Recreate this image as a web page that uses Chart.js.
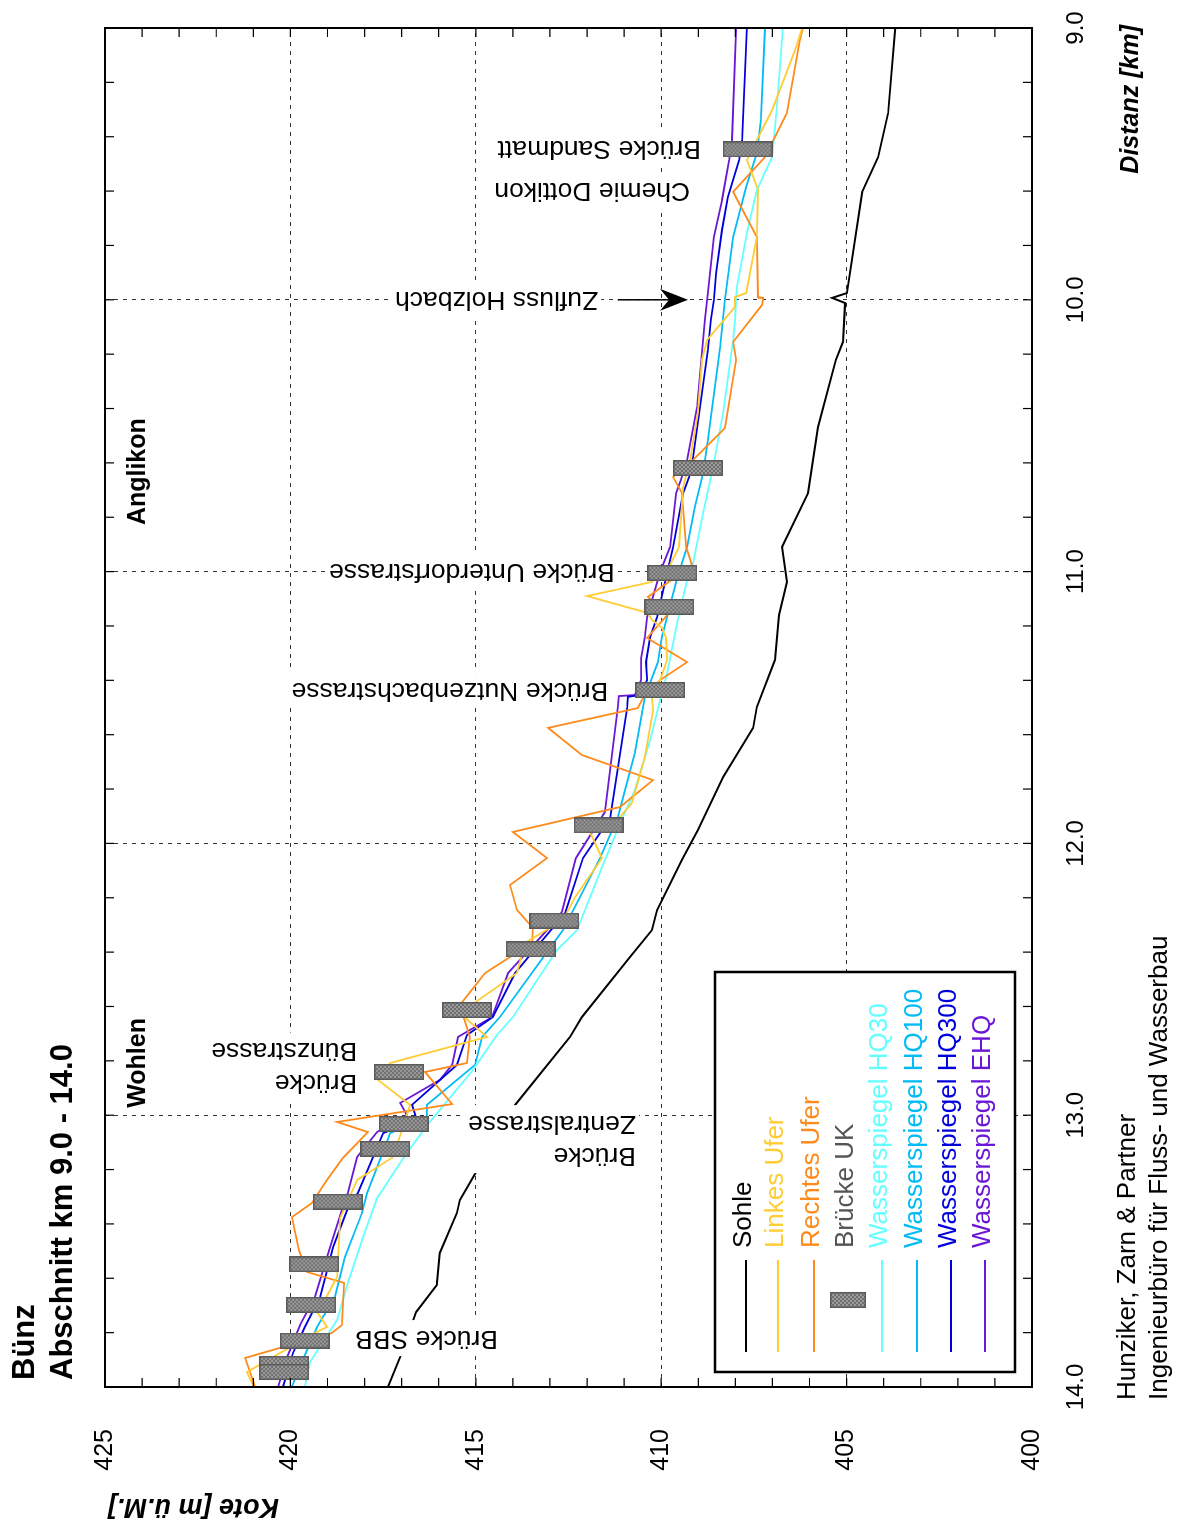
<!DOCTYPE html>
<html lang="de">
<head>
<meta charset="utf-8">
<title>Bünz – Abschnitt km 9.0 - 14.0</title>
<script src="https://cdn.jsdelivr.net/npm/chart.js@4.4.1/dist/chart.umd.min.js"></script>
<style>
  html, body { margin: 0; padding: 0; background: #fff; overflow: hidden; }
  #wrap { position: absolute; left: 0; top: 0; width: 1522px; height: 1180px;
          transform-origin: 0 0; transform: translateY(1522px) rotate(-90deg); }
  canvas { display: block; }
</style>
</head>
<body>
<div id="wrap"><canvas id="profil" width="1522" height="1180"></canvas></div>
<script>
/* Längenprofil Bünz, km 9.0 - 14.0 (drawn landscape, page turned by CSS) */

const sohleKm   = [9.00, 9.313, 9.475, 9.603, 9.975, 9.993, 10.012, 10.155, 10.221, 10.468, 10.711, 10.909, 11.038, 11.160, 11.325, 11.498, 11.575, 11.756, 11.951, 12.061, 12.245, 12.319, 12.418, 12.639, 12.712, 12.962, 13.209, 13.312, 13.360, 13.507, 13.625, 13.724, 13.890, 14.0];
const sohleKote = [403.69, 403.88, 404.15, 404.58, 404.99, 405.39, 405.04, 405.10, 405.29, 405.77, 406.04, 406.74, 406.61, 406.82, 406.93, 407.42, 407.52, 408.33, 409.01, 409.44, 410.11, 410.25, 410.84, 412.14, 412.46, 413.94, 414.99, 415.43, 415.51, 415.97, 416.05, 416.61, 417.04, 417.37];

const linksKm   = [9.00, 9.081, 9.302, 9.412, 9.486, 9.596, 9.769, 9.975, 9.990, 10.026, 10.148, 10.221, 10.416, 10.589, 10.689, 10.909, 10.976, 11.038, 11.090, 11.152, 11.178, 11.207, 11.244, 11.325, 11.399, 11.465, 11.509, 11.682, 11.851, 11.903, 11.958, 12.054, 12.197, 12.282, 12.366, 12.477, 12.624, 12.712, 12.808, 12.870, 12.962, 13.154, 13.238, 13.378, 13.595, 13.728, 13.779, 13.801, 13.945, 13.993];
const linksKote = [406.20, 406.39, 407.01, 407.42, 407.69, 407.39, 407.42, 407.71, 408.01, 408.01, 408.76, 408.90, 409.01, 409.22, 409.41, 409.52, 409.76, 410.25, 412.00, 410.36, 410.25, 409.98, 409.87, 409.84, 410.03, 410.25, 410.22, 410.44, 410.79, 411.11, 411.92, 411.60, 412.32, 412.65, 413.67, 413.89, 415.43, 414.70, 417.31, 417.64, 416.77, 417.23, 418.20, 418.66, 418.74, 419.26, 419.01, 419.34, 421.17, 421.01];

const rechtsKm   = [9.00, 9.044, 9.313, 9.475, 9.603, 9.769, 9.990, 9.993, 10.019, 10.155, 10.221, 10.472, 10.589, 10.652, 10.711, 10.909, 10.976, 11.042, 11.093, 11.160, 11.244, 11.333, 11.399, 11.472, 11.502, 11.575, 11.675, 11.767, 11.866, 11.958, 12.054, 12.153, 12.245, 12.311, 12.366, 12.477, 12.595, 12.712, 12.808, 12.841, 12.959, 13.025, 13.062, 13.157, 13.238, 13.323, 13.375, 13.496, 13.577, 13.617, 13.772, 13.801, 13.893, 14.0];
const rechtsKote = [406.18, 406.26, 406.61, 407.20, 408.06, 407.42, 407.39, 407.25, 407.28, 408.06, 407.98, 408.28, 409.14, 409.68, 409.44, 409.33, 409.17, 409.84, 410.36, 409.84, 410.38, 409.30, 410.03, 410.52, 410.63, 413.05, 412.14, 410.22, 411.11, 414.00, 413.08, 414.08, 413.89, 413.46, 413.48, 414.75, 415.43, 415.16, 415.24, 416.37, 415.64, 418.74, 417.91, 418.58, 419.01, 419.42, 419.96, 419.77, 419.55, 418.55, 418.61, 418.88, 421.22, 420.95];

const brueckeKm   = [9.447, 10.619, 11.005, 11.130, 11.436, 11.934, 12.284, 12.390, 12.613, 12.841, 13.032, 13.124, 13.318, 13.549, 13.698, 13.829, 13.915, 13.945];
const brueckeKote = [407.67, 409.01, 409.70, 409.78, 410.03, 411.69, 412.88, 413.52, 415.24, 417.07, 416.94, 417.44, 418.72, 419.36, 419.44, 419.61, 420.17, 420.17];

const hq30Km   = [9.00, 9.291, 9.475, 9.596, 9.754, 9.953, 10.074, 10.148, 10.416, 10.615, 10.784, 10.968, 11.031, 11.189, 11.373, 11.472, 11.620, 11.804, 11.903, 12.061, 12.319, 12.392, 12.639, 12.705, 12.834, 13.025, 13.139, 13.305, 13.448, 13.617, 13.753, 13.908, 14.0];
const hq30Kote = [406.72, 406.88, 407.01, 407.42, 407.69, 407.96, 408.01, 408.06, 408.33, 408.60, 408.87, 409.14, 409.30, 409.57, 409.84, 410.03, 410.30, 410.71, 411.03, 411.52, 412.27, 412.81, 414.00, 414.43, 415.08, 416.24, 416.86, 417.66, 418.04, 418.45, 418.74, 419.47, 419.61];

const hq100Km   = [9.00, 9.338, 9.460, 9.585, 9.769, 10.001, 10.174, 10.516, 10.637, 10.762, 10.909, 11.024, 11.241, 11.333, 11.461, 11.667, 11.903, 12.054, 12.319, 12.639, 12.712, 12.815, 12.962, 13.007, 13.066, 13.286, 13.360, 13.522, 13.669, 13.779, 13.908, 14.0];
const hq100Kote = [407.20, 407.31, 407.42, 407.71, 408.06, 408.28, 408.41, 408.74, 408.87, 409.09, 409.30, 409.57, 409.98, 410.09, 410.44, 410.71, 411.17, 411.65, 412.65, 414.35, 414.83, 415.02, 416.32, 416.32, 417.31, 417.93, 418.07, 418.53, 418.80, 419.28, 419.69, 419.96];

const hq300Km   = [9.00, 9.412, 9.486, 9.622, 9.743, 9.901, 10.001, 10.074, 10.185, 10.578, 10.652, 10.711, 10.909, 11.005, 11.167, 11.241, 11.333, 11.399, 11.454, 11.461, 11.502, 11.907, 12.054, 12.256, 12.477, 12.639, 12.705, 12.815, 12.962, 13.018, 13.066, 13.286, 13.349, 13.485, 13.669, 13.779, 13.875, 14.0];
const hq300Kote = [407.69, 407.82, 407.90, 408.20, 408.36, 408.52, 408.58, 408.66, 408.74, 409.14, 409.25, 409.41, 409.68, 409.84, 410.11, 410.30, 410.41, 410.38, 410.57, 410.90, 410.92, 411.38, 412.11, 412.59, 413.94, 414.54, 415.24, 415.51, 416.72, 416.59, 417.50, 418.18, 418.47, 418.85, 419.20, 419.61, 419.93, 420.20];

const ehqKm   = [9.00, 9.412, 9.486, 9.633, 9.769, 9.975, 10.074, 10.394, 10.589, 10.663, 10.711, 10.909, 11.001, 11.167, 11.241, 11.318, 11.399, 11.454, 11.458, 11.498, 11.885, 12.054, 12.252, 12.319, 12.477, 12.639, 12.712, 12.815, 12.870, 12.955, 12.999, 13.062, 13.154, 13.286, 13.349, 13.485, 13.669, 13.772, 13.890, 14.0];
const ehqKote = [407.98, 408.09, 408.17, 408.36, 408.58, 408.74, 408.82, 409.03, 409.30, 409.47, 409.60, 409.76, 410.03, 410.38, 410.44, 410.54, 410.54, 410.71, 411.14, 411.17, 411.52, 412.30, 412.68, 413.08, 414.13, 414.56, 415.48, 415.64, 415.97, 417.04, 416.86, 417.66, 418.20, 418.45, 418.61, 418.93, 419.34, 419.74, 420.09, 420.33];

const distTicks = [9, 10, 11, 12, 13, 14];
const koteTicks = [400, 405, 410, 415, 420, 425];

// bridge / place notes: anchor = km of the text middle, kote where the text starts
const notes = [
  { lines: ['Brücke Sandmatt'], km: 9.441, kote: 408.93 },
  { lines: ['Chemie Dottikon'], km: 9.596, kote: 409.22 },
  { lines: ['Zufluss Holzbach'], km: 9.997, kote: 411.70 },
  { lines: ['Brücke Unterdorfstrasse'], km: 10.998, kote: 411.25 },
  { lines: ['Brücke Nutzenbachstrasse'], km: 11.436, kote: 411.43 },
  { lines: ['Brücke', 'Bünzstrasse'], km: 12.821, kote: 418.20 },
  { lines: ['Brücke', 'Zentralstrasse'], km: 13.088, kote: 410.68 },
  { lines: ['Brücke SBB'], km: 13.820, kote: 414.40 }
];
const places = [
  { text: 'Wohlen', km: 12.973, kote: 424.11 },
  { text: 'Anglikon', km: 10.829, kote: 424.11 }
];

const ProfilChart = (() => {
  const FONT = '"Liberation Sans", Arial, Helvetica, sans-serif';
  const GRID = '#333';

  function pts(km, kote) {
    return km.map((k, i) => ({ x: k, y: kote[i] }));
  }

  function hatchBox(w, h) {
    const c = document.createElement('canvas');
    c.width = w;
    c.height = h;
    const g = c.getContext('2d');
    for (let i = 0; i < w; i += 2) {
      for (let j = 0; j < h; j += 2) {
        g.fillStyle = ((i + j) / 2) % 2 ? '#9c9c9c' : '#6e6e6e';
        g.fillRect(i, j, 2, 2);
      }
    }
    g.strokeStyle = '#5a5a5a';
    g.lineWidth = 1.5;
    g.strokeRect(0.75, 0.75, w - 1.5, h - 1.5);
    return c;
  }

  function line(label, km, kote, color, width) {
    return {
      label, data: pts(km, kote), borderColor: color, backgroundColor: color,
      borderWidth: width || 1.8, pointRadius: 0, tension: 0, order: 1
    };
  }

  function drawNotes(ctx, x, y) {
    ctx.save();
    ctx.font = `26.5px ${FONT}`;
    ctx.textBaseline = 'middle';
    ctx.textAlign = 'left';
    const lh = 32;
    notes.forEach((n) => {
      const w = Math.max(...n.lines.map((t) => ctx.measureText(t).width));
      const h = lh * n.lines.length;
      ctx.save();
      ctx.translate(x.getPixelForValue(n.km), y.getPixelForValue(n.kote));
      ctx.rotate(-Math.PI / 2);
      ctx.fillStyle = '#fff';
      ctx.fillRect(-3, -h / 2 - 2, w + 6, h + 4);
      ctx.fillStyle = '#000';
      n.lines.forEach((t, i) => ctx.fillText(t, 0, -h / 2 + lh * (i + 0.5)));
      ctx.restore();
    });
    ctx.font = `bold 25px ${FONT}`;
    ctx.fillStyle = '#000';
    places.forEach((p) => ctx.fillText(p.text, x.getPixelForValue(p.km), y.getPixelForValue(p.kote)));
    ctx.restore();
  }

  function drawArrow(ctx, x, y) {
    const ax = x.getPixelForValue(10.0);
    const y0 = y.getPixelForValue(411.17);
    const y1 = y.getPixelForValue(409.28);
    ctx.save();
    ctx.strokeStyle = '#000';
    ctx.fillStyle = '#000';
    ctx.lineWidth = 1.5;
    ctx.beginPath();
    ctx.moveTo(ax, y0);
    ctx.lineTo(ax, y1 - 18);
    ctx.stroke();
    ctx.beginPath();
    ctx.moveTo(ax, y1);
    ctx.lineTo(ax - 11, y1 - 28);
    ctx.lineTo(ax, y1 - 19);
    ctx.lineTo(ax + 11, y1 - 28);
    ctx.closePath();
    ctx.fill();
    ctx.restore();
  }

  function drawFrame(ctx, a, x, y) {
    ctx.save();
    ctx.strokeStyle = '#000';
    ctx.lineWidth = 1.2;
    ctx.beginPath();
    for (let k = 9; k <= 14.001; k += 0.2) {
      const px = x.getPixelForValue(k);
      ctx.moveTo(px, a.bottom); ctx.lineTo(px, a.bottom - 9);
      ctx.moveTo(px, a.top); ctx.lineTo(px, a.top + 9);
    }
    for (let v = 400; v <= 425; v++) {
      const py = y.getPixelForValue(v);
      ctx.moveTo(a.left, py); ctx.lineTo(a.left + 9, py);
      ctx.moveTo(a.right, py); ctx.lineTo(a.right - 9, py);
    }
    ctx.stroke();
    ctx.lineWidth = 2;
    ctx.strokeRect(a.left, a.top, a.right - a.left, a.bottom - a.top);
    ctx.restore();
  }

  function drawLegend(ctx, chart, legendBox) {
    const rows = [746, 778, 814, 848, 882, 917, 951, 985];
    ctx.save();
    ctx.fillStyle = '#fff';
    ctx.fillRect(150, 715, 400, 300);
    ctx.strokeStyle = '#000';
    ctx.lineWidth = 2.5;
    ctx.strokeRect(150, 715, 400, 300);
    ctx.font = `26px ${FONT}`;
    ctx.textBaseline = 'middle';
    chart.data.datasets.forEach((ds, i) => {
      const ry = rows[i];
      if (ds.pointStyle) {
        ctx.drawImage(legendBox, 222 - legendBox.width / 2, ry - legendBox.height / 2);
        ctx.fillStyle = '#555';
      } else {
        ctx.strokeStyle = ds.borderColor;
        ctx.lineWidth = 2;
        ctx.beginPath();
        ctx.moveTo(170, ry);
        ctx.lineTo(262, ry);
        ctx.stroke();
        ctx.fillStyle = ds.borderColor;
      }
      ctx.fillText(ds.label, 274, ry - 2);
    });
    ctx.restore();
  }

  function drawTexts(ctx, a) {
    ctx.save();
    ctx.fillStyle = '#000';
    ctx.textBaseline = 'middle';
    ctx.font = `bold 31px ${FONT}`;
    ctx.fillText('Bünz', 142, 25);
    ctx.fillText('Abschnitt km 9.0 - 14.0', 142, 63);
    ctx.font = `26px ${FONT}`;
    ctx.fillText('Hunziker, Zarn & Partner', 122, 1128);
    ctx.fillText('Ingenieurbüro für Fluss- und Wasserbau', 122, 1160);
    ctx.font = `italic bold 25px ${FONT}`;
    ctx.textAlign = 'right';
    ctx.fillText('Distanz [km]', a.right + 3, 1131);
    ctx.save();
    ctx.translate(16, a.top + 3);
    ctx.rotate(-Math.PI / 2);
    ctx.font = `italic bold 27px ${FONT}`;
    ctx.fillText('Kote [m ü.M.]', 0, 0);
    ctx.restore();
    ctx.restore();
  }

  function init() {
    const bridgeBox = hatchBox(16, 50);
    const legendBox = hatchBox(16, 36);

    const deco = {
      id: 'profilDeco',
      afterDraw(chart) {
        const { ctx, chartArea: a, scales: { x, y } } = chart;
        drawNotes(ctx, x, y);
        drawArrow(ctx, x, y);
        drawLegend(ctx, chart, legendBox);
        drawFrame(ctx, a, x, y);
        drawTexts(ctx, a);
      }
    };

    const tickFont = { family: FONT, size: 24 };

    new Chart(document.getElementById('profil'), {
      type: 'line',
      data: {
        datasets: [
          line('Sohle', sohleKm, sohleKote, '#000000', 2),
          line('Linkes Ufer', linksKm, linksKote, '#ffcc33'),
          line('Rechtes Ufer', rechtsKm, rechtsKote, '#ff8a1c'),
          {
            label: 'Brücke UK', data: pts(brueckeKm, brueckeKote), showLine: false,
            pointStyle: bridgeBox, pointRadius: 5, borderColor: '#808080', backgroundColor: '#808080', order: 0
          },
          line('Wasserspiegel HQ30', hq30Km, hq30Kote, '#66ffff'),
          line('Wasserspiegel HQ100', hq100Km, hq100Kote, '#00bbf5'),
          line('Wasserspiegel HQ300', hq300Km, hq300Kote, '#0000dd'),
          line('Wasserspiegel EHQ', ehqKm, ehqKote, '#6a17d6')
        ]
      },
      options: {
        responsive: false,
        animation: false,
        events: [],
        layout: { padding: { top: 105, right: 28, left: 0, bottom: 0 } },
        plugins: { legend: { display: false }, tooltip: { enabled: false } },
        scales: {
          x: {
            type: 'linear', min: 9, max: 14, reverse: true,
            afterFit: (s) => { s.height = 148; },
            afterBuildTicks: (s) => { s.ticks = distTicks.map((v) => ({ value: v })); },
            ticks: { color: '#000', font: tickFont, padding: 30, maxRotation: 0, autoSkip: false,
                     callback: (v) => Number(v).toFixed(1) },
            grid: { color: GRID, lineWidth: 1, drawTicks: false },
            border: { display: false, dash: [4, 5] }
          },
          y: {
            type: 'linear', min: 400, max: 425,
            afterFit: (s) => { s.width = 135; },
            afterBuildTicks: (s) => { s.ticks = koteTicks.map((v) => ({ value: v })); },
            ticks: { color: '#000', font: { family: FONT, size: 25 }, padding: 42, autoSkip: false },
            grid: { color: GRID, lineWidth: 1, drawTicks: false },
            border: { display: false, dash: [4, 5] }
          }
        }
      },
      plugins: [deco]
    });
  }

  return { init };
})();

document.addEventListener('DOMContentLoaded', ProfilChart.init);
</script>
</body>
</html>
